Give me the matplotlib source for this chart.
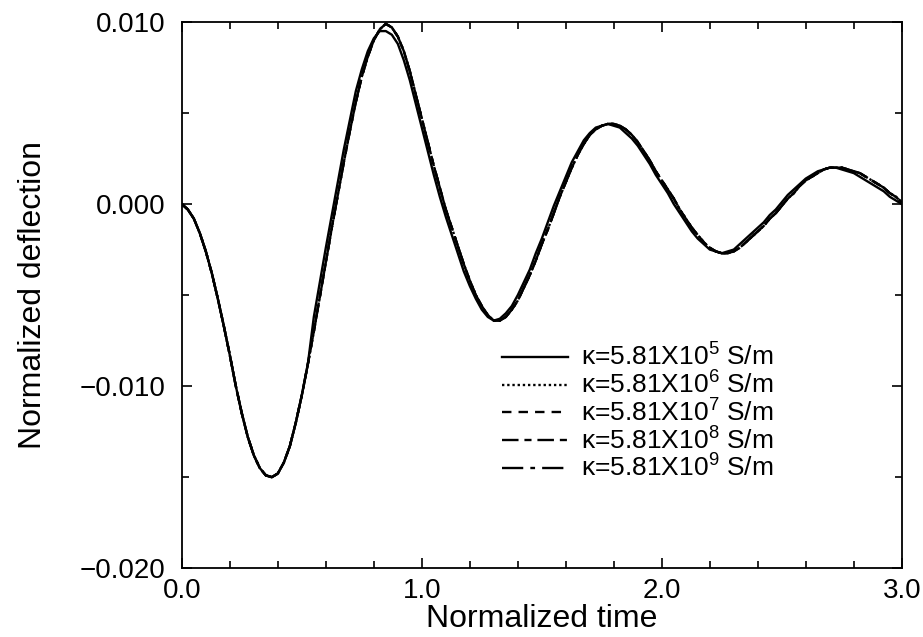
import numpy as np
import matplotlib
matplotlib.use("Agg")
import matplotlib.pyplot as plt
from matplotlib.ticker import MultipleLocator, FuncFormatter

plt.rcParams['font.family'] = ['Liberation Sans', 'DejaVu Sans']
plt.rcParams['mathtext.fontset'] = 'custom'
plt.rcParams['mathtext.rm'] = 'Liberation Sans'
plt.rcParams['mathtext.default'] = 'regular'

# normalized time grid, curves every 0.025
time = np.round(np.arange(0, 3.0001, 0.025), 3)

# deflection in units of 1e-4
# kappa = 5.81e5 S/m (solid, slightly leading after the first half cycle)
defl_5_e4 = [0, -3, -8, -16, -26, -38, -52, -67, -83, -100, -115, -128, -138, -145, -149, -150,
             -148, -142, -133, -120, -105, -88, -62, -43, -24, -6, 12, 30, 46, 62,
             74, 84, 91, 95, 95, 93, 88, 79, 68, 55, 42, 29, 16, 4, -7, -17,
             -27, -37, -45, -52, -58, -62, -64, -63, -60, -56, -50, -43, -36, -27, -19, -10,
             -1, 7, 15, 23, 29, 35, 39, 42, 43, 44, 43, 42, 39, 36, 32, 27,
             22, 16, 11, 6, 0, -5, -10, -15, -19, -22, -25, -26, -27, -26, -25, -22,
             -19, -16, -13, -10, -6, -3, 1, 5, 8, 11, 14, 16, 18, 19, 20, 20,
             19, 18, 17, 15, 13, 11, 9, 7, 4, 2, 0]

# kappa = 5.81e6 .. 5.81e9 S/m (practically coincide)
defl_hi_e4 = [0, -3, -8, -16, -26, -38, -52, -67, -83, -100, -115, -128, -138, -145, -149, -150,
              -148, -142, -133, -120, -105, -88, -70, -51, -32, -13, 5, 23, 40, 56,
              70, 81, 90, 96, 99, 97, 92, 84, 73, 60, 47, 34, 21, 9, -3, -13,
              -23, -33, -42, -50, -56, -61, -64, -64, -62, -58, -53, -46, -39, -31, -22, -14,
              -5, 4, 12, 20, 27, 33, 38, 41, 43, 44, 44, 43, 41, 38, 34, 29,
              24, 18, 13, 8, 3, -3, -8, -13, -17, -21, -24, -26, -27, -27, -26, -24,
              -21, -18, -15, -12, -8, -5, -1, 3, 6, 10, 13, 15, 17, 19, 20, 20,
              20, 19, 18, 17, 15, 13, 11, 9, 6, 4, 1]

exponents = [5, 6, 7, 8, 9]
series = [defl_5_e4, defl_hi_e4, defl_hi_e4, defl_hi_e4, defl_hi_e4]
styles = ['-', (0, (1, 1.2)), (0, (4, 3)), (0, (7, 2.5, 3, 2.5)), (0, (9, 3, 2, 3))]

fig = plt.figure(figsize=(9.23, 6.37), dpi=100)
ax = fig.add_axes([0.197, 0.108, 0.780, 0.8575])

for e, y, ls in zip(exponents, series, styles):
    ax.plot(time, np.array(y) * 1e-4, color='black', lw=1.7, ls=ls,
            label=r'κ=5.81X10$^{%d}$ S/m' % e)

def minus_fmt(fmt):
    return FuncFormatter(lambda v, p: (fmt % v).replace('-', '\u2212'))

ax.set_xlim(0, 3.0)
ax.set_ylim(-0.020, 0.010)
ax.xaxis.set_major_locator(MultipleLocator(1.0))
ax.xaxis.set_minor_locator(MultipleLocator(0.2))
ax.yaxis.set_major_locator(MultipleLocator(0.010))
ax.yaxis.set_minor_locator(MultipleLocator(0.005))
ax.xaxis.set_major_formatter(minus_fmt('%.1f'))
ax.yaxis.set_major_formatter(minus_fmt('%.3f'))
ax.tick_params(which='both', direction='in', top=True, right=True, labelsize=20, width=1.2)
ax.tick_params(which='major', length=7)
ax.tick_params(which='minor', length=5)
ax.tick_params(axis='y', pad=12)
ax.tick_params(axis='x', pad=7)
for s in ax.spines.values():
    s.set_linewidth(1.3)

ax.set_xlabel('Normalized time', fontsize=23, labelpad=0)
ax.set_ylabel('Normalized deflection', fontsize=23)
ax.yaxis.set_label_coords(-0.186, 0.5)

ax.legend(loc='upper left', bbox_to_anchor=(0.43, 0.43), frameon=False, fontsize=19,
          handlelength=2.5, handletextpad=0.5, labelspacing=0.02, borderaxespad=0)

fig.savefig('out.png', dpi=100)
